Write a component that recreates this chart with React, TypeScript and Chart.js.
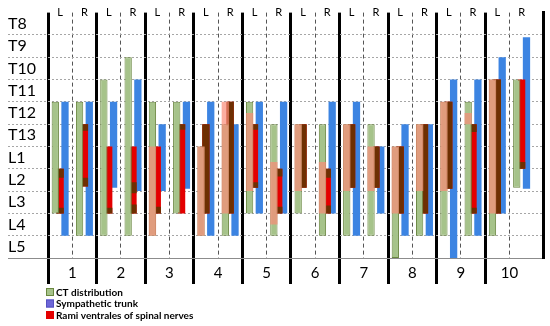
import React, { useEffect, useRef } from 'react';
import { Chart, registerables } from 'chart.js';

Chart.register(...registerables);

// Vertebral levels, top to bottom (one level = 1 unit, 0 = upper edge of T8)
const levelLabels = ['T8', 'T9', 'T10', 'T11', 'T12', 'T13', 'L1', 'L2', 'L3', 'L4', 'L5'];
const subjectLabels = ['1', '2', '3', '4', '5', '6', '7', '8', '9', '10'];
const sideLabels = ['L', 'R'];

type Range = [number, number] | null;

// Order of entries: 1L, 1R, 2L, 2R, ... 10L, 10R  (values = [upper, lower] level)
const ctDistribution: Range[] = [
  [4, 9], [4, 10], [3, 10], [2, 10], [4, 10], [4, 9], [6, 10], [5, 10], [4, 9], [5, 10],
  [5, 9], [5, 10], [5, 10], [5, 10], [6, 11], [5, 10], [4, 10], [4, 10], [3, 10], [3, 7.85],
];
const ctOverlap: Range[] = [
  null, null, null, null, [6, 10], null, [6, 10], [4, 9], [4.5, 8], [6.7, 9.5],
  [5, 8], [6.7, 9], [5, 8], [6, 8], [6, 9], [5, 8], [4, 8], [4.5, 5], [3, 9], null,
];
const ramiVentrales: Range[] = [
  [7, 9], [5, 7.8], [6, 9], [6, 9], [6, 9], [5, 9], [5, 9], [4, 9], [5, 7.85], [7, 9],
  [5, 7.85], [7, 9], [5, 7.85], [6, 7.85], [6, 9], [5, 9], [4, 7.9], [5, 9], [3, 9], [3, 7],
];
const ramiDarkUpper: Range[] = [
  [7, 7.4], [5, 5.3], null, [7.6, 8.1], null, [5, 5.25], [5, 9], [4, 9], [5, 5.25], [7, 7.35],
  [5, 7.85], [7, 7.4], [5, 7.85], [6, 7.85], [6, 9], [5, 9], [4, 7.9], [5, 5.35], [3, 9], [6.7, 7],
];
const ramiDarkLower: Range[] = [
  [8.75, 9], [7.4, 7.8], [8.75, 9], [8.6, 9], [8.7, 9], null, null, null, [7.6, 7.85], [8.7, 9],
  null, [8.65, 9], null, null, null, null, null, [8.75, 9], null, null,
];
const sympatheticTrunk: Range[] = [
  [4, 10], [4, 10], [4, 7.85], [3, 8], [5, 8], [4, 7.9], [4, 10], [5, 10], [4, 9], [4, 9],
  null, [4, 9], [4, 10], [6, 9], [5, 10], [5, 10], [3, 11], [3, 10], [2, 9], [1.1, 7.9],
];

const legendOrder = ['CT distribution', 'Sympathetic trunk', 'Rami ventrales of spinal nerves'];

const sidePosition = (i: number) => Math.floor(i / 2) + (i % 2 === 0 ? 0.25 : 0.75);
const toPoints = (arr: Range[]) =>
  arr
    .map((r, i) => (r ? { x: sidePosition(i), y: r } : null))
    .filter((p) => p !== null);

const gridTicks = subjectLabels.flatMap((_, s) => [s, s + 0.5]);
const sideTicks = subjectLabels.flatMap((_, s) => [s + 0.25, s + 0.75]);
const levelTicks = Array.from({ length: levelLabels.length * 2 + 1 }, (_, k) => k / 2);

const legendPlugin = {
  id: 'stackedLegend',
  afterDraw(chart: any) {
    const { ctx, chartArea } = chart;
    ctx.save();
    ctx.font = 'bold 10px Lato';
    ctx.textBaseline = 'middle';
    ctx.textAlign = 'left';
    legendOrder.forEach((label, i) => {
      const ds: any = chart.data.datasets.find((d: any) => d.label === label);
      if (!ds) return;
      const x = chartArea.left - 2;
      const y = chartArea.bottom + 34 + i * 11.5;
      ctx.fillStyle = ds.legendColor || ds.backgroundColor;
      ctx.fillRect(x, y - 4, 8, 8);
      ctx.lineWidth = 1;
      ctx.strokeStyle = ds.legendBorder || ds.borderColor || ds.backgroundColor;
      ctx.strokeRect(x + 0.5, y - 3.5, 7, 7);
      ctx.fillStyle = '#000';
      ctx.fillText(label, x + 10, y + 0.5);
    });
    ctx.restore();
  },
};

export default function App() {
  const canvasRef = useRef<HTMLCanvasElement | null>(null);

  useEffect(() => {
    if (!canvasRef.current) return;
    Chart.defaults.font.family = 'Lato';
    Chart.defaults.color = '#000';

    const common = { xAxisID: 'x', yAxisID: 'y', borderSkipped: false as const };

    const chart = new Chart(canvasRef.current, {
      type: 'bar',
      data: {
        datasets: [
          { ...common, label: 'overlap', data: toPoints(ctOverlap) as any, stack: 'ct', order: 0,
            backgroundColor: 'rgba(250,140,120,0.7)', borderWidth: 0 },
          { ...common, label: 'CT distribution', data: toPoints(ctDistribution) as any, stack: 'ct', order: 1,
            backgroundColor: '#a6c38a', borderColor: '#6a8740', borderWidth: 1 },
          { ...common, label: 'darkUpper', data: toPoints(ramiDarkUpper) as any, stack: 'rami', order: 2,
            backgroundColor: '#6e2f02', borderWidth: 0 },
          { ...common, label: 'darkLower', data: toPoints(ramiDarkLower) as any, stack: 'rami', order: 3,
            backgroundColor: '#6e2f02', borderWidth: 0 },
          { ...common, label: 'Rami ventrales of spinal nerves', data: toPoints(ramiVentrales) as any, stack: 'rami', order: 4,
            backgroundColor: '#e40000', borderWidth: 0 },
          { ...common, label: 'Sympathetic trunk', data: toPoints(sympatheticTrunk) as any, stack: 'st', order: 5,
            backgroundColor: '#3c84e2', borderWidth: 0, legendColor: '#6d66d8', legendBorder: '#5550c0' } as any,
        ],
      },
      options: {
        animation: false,
        responsive: true,
        maintainAspectRatio: false,
        layout: { padding: { left: 8, right: 7, top: 0, bottom: 42 } },
        datasets: { bar: { categoryPercentage: 0.6, barPercentage: 1.5 } },
        plugins: { legend: { display: false }, tooltip: { enabled: false } },
        scales: {
          x: {
            type: 'linear', axis: 'x', position: 'bottom', min: 0, max: 10.19, offset: false,
            afterBuildTicks: (s: any) => { s.ticks = gridTicks.map((v) => ({ value: v })); },
            afterFit: (s: any) => { s.height = 26; },
            grid: {
              offset: false,
              drawTicks: true,
              tickLength: 26,
              color: (c: any) => (Number.isInteger(c.tick?.value) ? '#000' : '#555'),
              lineWidth: (c: any) => (Number.isInteger(c.tick?.value) ? 3 : 1),
              tickColor: (c: any) => (Number.isInteger(c.tick?.value) ? '#000' : 'rgba(0,0,0,0)'),
              tickWidth: 3,
            },
            border: {
              display: true, color: '#8c8c8c', width: 1,
              dash: (c: any) => (c.tick && !Number.isInteger(c.tick.value) ? [4, 3] : []),
            },
            ticks: {
              autoSkip: false, maxRotation: 0, padding: -20,
              font: { size: 15 },
              callback: (v: any) => (Number.isInteger(v) ? '' : subjectLabels[Math.floor(v)]),
            },
          },
          xTop: {
            type: 'linear', axis: 'x', position: 'top', min: 0, max: 10.19, offset: false,
            afterBuildTicks: (s: any) => { s.ticks = sideTicks.map((v) => ({ value: v })); },
            afterFit: (s: any) => { s.height = 9; },
            grid: { display: false, drawTicks: false },
            border: { display: false },
            ticks: {
              autoSkip: false, maxRotation: 0, mirror: true, padding: -7,
              font: { size: 11 },
              callback: (_v: any, i: number) => sideLabels[i % 2],
            },
          },
          y: {
            type: 'linear', axis: 'y', position: 'left', min: 0, max: 11, reverse: true, stacked: false,
            afterBuildTicks: (s: any) => { s.ticks = levelTicks.map((v) => ({ value: v })); },
            afterFit: (s: any) => { s.width = 40; },
            grid: {
              drawTicks: true,
              tickLength: 40,
              color: (c: any) => {
                const v = c.tick?.value;
                if (!Number.isInteger(v) || v === 0) return 'rgba(0,0,0,0)';
                return v === 11 ? '#8c8c8c' : '#a6a6a6';
              },
              tickColor: (c: any) => {
                const v = c.tick?.value;
                if (!Number.isInteger(v) || v === 0) return 'rgba(0,0,0,0)';
                return v === 11 ? '#8c8c8c' : '#a6a6a6';
              },
              tickBorderDash: (c: any) => (c.tick?.value === 11 ? [] : [2, 2]),
              lineWidth: 1,
            },
            border: {
              display: false,
              dash: (c: any) => (c.tick?.value === 11 ? [] : [2, 2]),
            },
            ticks: {
              autoSkip: false, crossAlign: 'far',
              font: { size: 16 },
              callback: (v: any) => (Number.isInteger(v) ? '' : levelLabels[Math.floor(v)]),
            },
          },
          yRight: {
            type: 'linear', axis: 'y', position: 'right',
            afterFit: (s: any) => { s.width = 0; },
            grid: { display: false, drawTicks: false },
            ticks: { display: false },
            border: { display: true, color: '#000', width: 3 },
          },
        },
      } as any,
      plugins: [legendPlugin],
    });

    return () => chart.destroy();
  }, []);

  return (
    <div style={{ position: 'absolute', left: 0, top: 0, width: 550, height: 326, background: '#fff' }}>
      <canvas ref={canvasRef} />
    </div>
  );
}
